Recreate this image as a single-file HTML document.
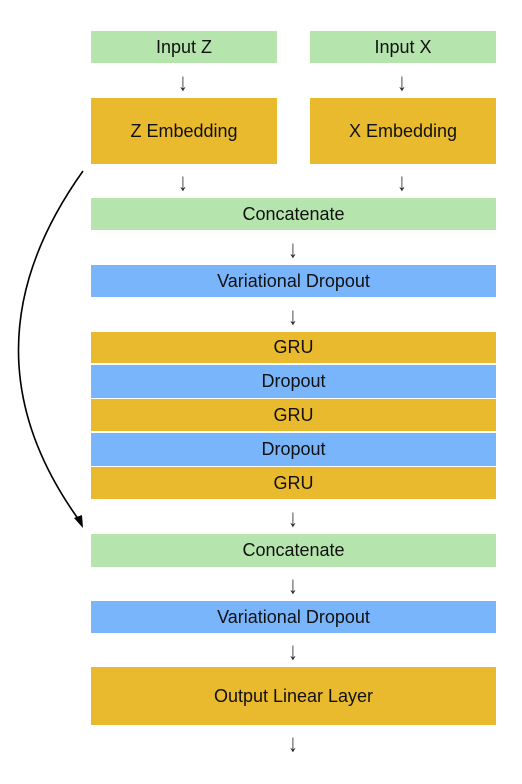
<!DOCTYPE html>
<html><head><style>
body{margin:0;width:522px;height:784px;background:#fff;position:relative;font-family:"Liberation Sans",sans-serif;overflow:hidden}
.b{position:absolute;display:flex;align-items:center;justify-content:center;font-size:18px;color:#111}
.g{background:#b5e5ad}.o{background:#e9b92e}.u{background:#79b5fb}
.a{position:absolute;font-size:19px;color:#222;width:20px;text-align:center;line-height:20px;transform:scaleY(1.3)}
</style></head><body>
<div class="b g" style="left:91px;top:31px;width:186px;height:32px">Input Z</div>
<div class="b g" style="left:310px;top:31px;width:186px;height:32px">Input X</div>
<div class="b o" style="left:91px;top:98px;width:186px;height:66px">Z Embedding</div>
<div class="b o" style="left:310px;top:98px;width:186px;height:66px">X Embedding</div>
<div class="b g" style="left:91px;top:198px;width:405px;height:32px">Concatenate</div>
<div class="b u" style="left:91px;top:265px;width:405px;height:32px">Variational Dropout</div>
<div class="b o" style="left:91px;top:332px;width:405px;height:31px">GRU</div>
<div class="b u" style="left:91px;top:365px;width:405px;height:33px">Dropout</div>
<div class="b o" style="left:91px;top:399px;width:405px;height:32px">GRU</div>
<div class="b u" style="left:91px;top:433px;width:405px;height:33px">Dropout</div>
<div class="b o" style="left:91px;top:467px;width:405px;height:32px">GRU</div>
<div class="b g" style="left:91px;top:534px;width:405px;height:33px">Concatenate</div>
<div class="b u" style="left:91px;top:601px;width:405px;height:32px">Variational Dropout</div>
<div class="b o" style="left:91px;top:667px;width:405px;height:58px">Output Linear Layer</div>
<div class="a" style="left:173px;top:74px">↓</div>
<div class="a" style="left:392px;top:74px">↓</div>
<div class="a" style="left:173px;top:174px">↓</div>
<div class="a" style="left:392px;top:174px">↓</div>
<div class="a" style="left:283px;top:241px">↓</div>
<div class="a" style="left:283px;top:308px">↓</div>
<div class="a" style="left:283px;top:510px">↓</div>
<div class="a" style="left:283px;top:577px">↓</div>
<div class="a" style="left:283px;top:643px">↓</div>
<div class="a" style="left:283px;top:735px">↓</div>
<svg width="522" height="784" style="position:absolute;left:0;top:0">
<path d="M83 171 Q-44 349 79 520" fill="none" stroke="#000" stroke-width="1.6"/>
<polygon points="83,528 74,518 82,515" fill="#000"/>
</svg>
</body></html>
